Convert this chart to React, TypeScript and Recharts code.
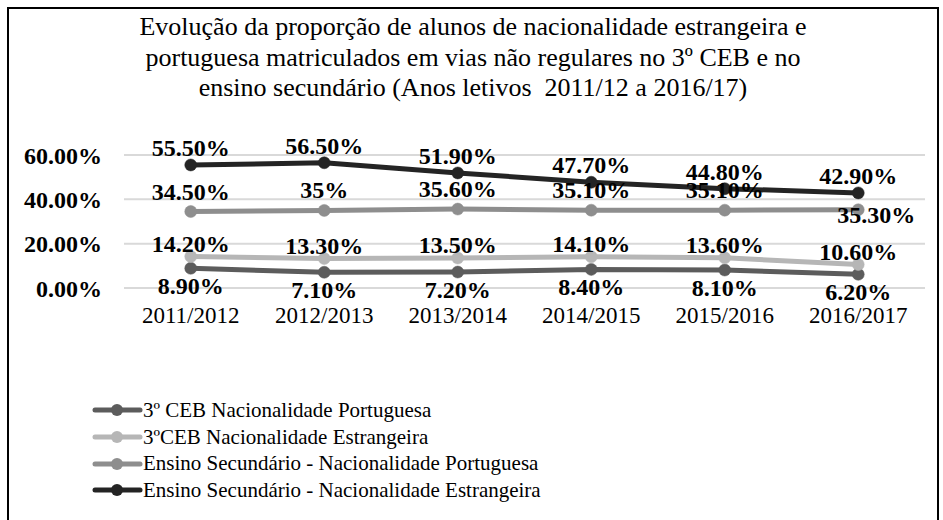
import React from 'react';
import { LineChart, Line, XAxis, YAxis, CartesianGrid, LabelList } from 'recharts';

const categories = ['2011/2012', '2012/2013', '2013/2014', '2014/2015', '2015/2016', '2016/2017'];
const ceb3Portuguesa = [8.9, 7.1, 7.2, 8.4, 8.1, 6.2];
const ceb3Estrangeira = [14.2, 13.3, 13.5, 14.1, 13.6, 10.6];
const secPortuguesa = [34.5, 35, 35.6, 35.1, 35.1, 35.3];
const secEstrangeira = [55.5, 56.5, 51.9, 47.7, 44.8, 42.9];
const yTicks = [0, 20, 40, 60];

const titleLines = [
  'Evolução da proporção de alunos de nacionalidade estrangeira e',
  'portuguesa matriculados em vias não regulares no 3º CEB e no',
  'ensino secundário (Anos letivos  2011/12 a 2016/17)',
];

const series = [
  { key: 'a', name: '3º CEB Nacionalidade Portuguesa', values: ceb3Portuguesa, color: '#5c5c5c', place: 'below' },
  { key: 'b', name: '3ºCEB Nacionalidade Estrangeira', values: ceb3Estrangeira, color: '#b6b6b6', place: 'above-close' },
  { key: 'c', name: 'Ensino Secundário - Nacionalidade Portuguesa', values: secPortuguesa, color: '#8e8e8e', place: 'above-far' },
  { key: 'd', name: 'Ensino Secundário - Nacionalidade Estrangeira', values: secEstrangeira, color: '#242424', place: 'above' },
];

const data = categories.map((c, i) => {
  const row: any = { cat: c };
  series.forEach((s) => { row[s.key] = s.values[i]; });
  return row;
});

const FONT = "'Liberation Serif', 'Times New Roman', Times, Tinos, 'DejaVu Serif', 'Noto Serif', serif";

const fmt = (v: number) => (Number.isInteger(v) ? `${v}%` : `${v.toFixed(2)}%`);

const makeLabel = (place: string, count: number) => (props: any) => {
  const { x, y, value, index } = props;
  let dx = 0;
  let by = y - 9;
  if (place === 'below') by = y + 26;
  if (place === 'above-close') by = y - 5;
  if (place === 'above-far') {
    by = y - 12;
    if (index === count - 1) { by = y + 13; dx = 18; }
  }
  return (
    <text x={x + dx} y={by} textAnchor="middle" style={{ fontFamily: FONT }} fontWeight="bold" fontSize={24} fill="#000">
      {fmt(value)}
    </text>
  );
};

const PAD = 801 / 12;

export default function App() {
  return (
    <div style={{ position: 'fixed', left: 0, top: 0, width: 943, height: 520, overflow: 'hidden', background: '#fff' }}>
      <div style={{ position: 'absolute', left: 7, top: 7, width: 932, height: 540, border: '2px solid #000', boxSizing: 'border-box' }} />
      <div style={{ position: 'absolute', left: 8, top: 12, width: 930, textAlign: 'center', fontFamily: FONT, fontSize: 26, lineHeight: '30.5px', color: '#000' }}>
        {titleLines.map((t) => (<div key={t} style={{ whiteSpace: 'pre' }}>{t}</div>))}
      </div>
      <div style={{ position: 'absolute', left: 0, top: 0 }}>
        <LineChart width={943} height={520} data={data} margin={{ top: 155, right: 18, bottom: 192, left: 0 }}>
          <CartesianGrid vertical={false} stroke="#d9d9d9" strokeWidth={2} />
          <XAxis dataKey="cat" axisLine={false} tickLine={false} tickSize={6} tickMargin={13} height={40}
            padding={{ left: PAD, right: PAD }}
            tick={{ fontFamily: FONT, fontSize: 23, fill: '#000' }} interval={0} />
          <YAxis domain={[0, 60]} ticks={yTicks} axisLine={false} tickLine={false} tickSize={6} tickMargin={16} width={124}
            tickFormatter={(v: number) => `${v.toFixed(2)}%`}
            tick={{ fontFamily: FONT, fontSize: 24, fontWeight: 'bold', fill: '#000' }} />
          {series.map((s) => (
            <Line key={s.key} dataKey={s.key} name={s.name} stroke={s.color} strokeWidth={5} strokeLinejoin="round"
              isAnimationActive={false}
              dot={{ r: 6, fill: s.color, stroke: s.color, strokeWidth: 0.5 }} activeDot={false}>
              <LabelList dataKey={s.key} content={makeLabel(s.place, s.values.length)} />
            </Line>
          ))}
        </LineChart>
      </div>
      <div style={{ position: 'absolute', left: 92, top: 397, fontFamily: FONT, fontSize: 21, lineHeight: '26.7px', color: '#000' }}>
        {series.map((s) => (
          <div key={s.key} style={{ display: 'flex', alignItems: 'center', whiteSpace: 'pre' }}>
            <svg width={51} height={14} style={{ flex: 'none' }}>
              <line x1={3} y1={7} x2={48} y2={7} stroke={s.color} strokeWidth={5} strokeLinecap="round" />
              <circle cx={25} cy={7} r={6} fill={s.color} />
            </svg>
            <span>{s.name}</span>
          </div>
        ))}
      </div>
    </div>
  );
}
